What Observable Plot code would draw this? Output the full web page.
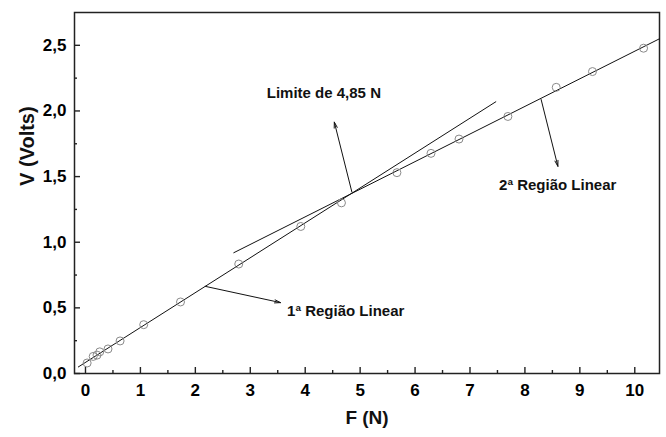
<!DOCTYPE html>
<html><head><meta charset="utf-8">
<script src="https://cdn.jsdelivr.net/npm/d3@7"></script>
<script src="https://cdn.jsdelivr.net/npm/@observablehq/plot@0.6"></script>
<style>body{margin:0;background:#fff}</style>
</head><body><div id="chart"></div>
<script>
// Measured points
const forceN = [0.03, 0.14, 0.21, 0.26, 0.41, 0.63, 1.06, 1.73, 2.79, 3.92, 4.66, 5.67, 6.29, 6.80, 7.69, 8.57, 9.23, 10.16];
const voltsV = [0.08, 0.13, 0.14, 0.165, 0.187, 0.248, 0.372, 0.545, 0.834, 1.12, 1.30, 1.53, 1.677, 1.786, 1.958, 2.18, 2.30, 2.478];

// Fit lines (endpoints)
const fit1F = [-0.13, 7.47];
const fit1V = [0.05, 2.07];
const fit2F = [2.70, 10.45];
const fit2V = [0.92, 2.55];

// Annotations
const noteLabels = ["Limite de 4,85 N", "2ª Região Linear", "1ª Região Linear"];
const noteF = [3.30, 7.53, 3.67];
const noteV = [2.137, 1.433, 0.476];
const arrowF1 = [4.85, 8.295, 2.18];
const arrowV1 = [1.382, 2.087, 0.664];
const arrowF2 = [4.53, 8.60, 3.55];
const arrowV2 = [1.915, 1.578, 0.540];

// Ticks
const xMajor = [0, 1, 2, 3, 4, 5, 6, 7, 8, 9, 10];
const xMinor = [0.5, 1.5, 2.5, 3.5, 4.5, 5.5, 6.5, 7.5, 8.5, 9.5];
const yMajor = [0, 0.5, 1.0, 1.5, 2.0, 2.5];
const yMinor = [0.25, 0.75, 1.25, 1.75, 2.25];

const points = forceN.map((f, i) => ({F: f, V: voltsV[i]}));
const fit1 = fit1F.map((f, i) => ({F: f, V: fit1V[i]}));
const fit2 = fit2F.map((f, i) => ({F: f, V: fit2V[i]}));
const notes = noteLabels.map((t, i) => ({label: t, F: noteF[i], V: noteV[i]}));
const arrows = arrowF1.map((f, i) => ({x1: f, y1: arrowV1[i], x2: arrowF2[i], y2: arrowV2[i]}));

const W = 666, H = 437, mL = 74, mR = 7, mT = 12, mB = 64;
const fw = W - mL - mR, fh = H - mT - mB;
const font = "'Liberation Sans', Arial, Helvetica, sans-serif";

const chart = Plot.plot({
  width: W, height: H,
  marginLeft: mL, marginRight: mR, marginTop: mT, marginBottom: mB,
  x: {domain: [-0.2, 10.45]},
  y: {domain: [0, 2.75]},
  style: {fontFamily: font, fontWeight: "bold", color: "#000", background: "#fff"},
  marks: [
    Plot.axisX({ticks: xMajor, tickSize: 0, tickPadding: 10, fontSize: 17, fontWeight: "bold", tickFormat: d => String(d), label: null}),
    Plot.axisY({ticks: yMajor, tickSize: 0, tickPadding: 8, fontSize: 17, fontWeight: "bold", tickFormat: d => d.toFixed(1).replace(".", ","), label: null}),
    Plot.tickX(xMajor, {x: d => d, insetTop: fh - 6, stroke: "#222", strokeWidth: 1.4}),
    Plot.tickX(xMinor, {x: d => d, insetTop: fh - 3, stroke: "#222", strokeWidth: 1.4}),
    Plot.tickY(yMajor, {y: d => d, insetRight: fw - 6, stroke: "#222", strokeWidth: 1.4}),
    Plot.tickY(yMinor, {y: d => d, insetRight: fw - 3, stroke: "#222", strokeWidth: 1.4}),
    Plot.frame({stroke: "#222", strokeWidth: 1.5}),
    Plot.line(fit1, {x: "F", y: "V", stroke: "#111", strokeWidth: 1}),
    Plot.line(fit2, {x: "F", y: "V", stroke: "#111", strokeWidth: 1}),
    Plot.dot(points, {x: "F", y: "V", r: 4, stroke: "#8a8a8a", strokeWidth: 1, fill: "none"}),
    Plot.arrow(arrows, {x1: "x1", y1: "y1", x2: "x2", y2: "y2", stroke: "#111", strokeWidth: 1, headLength: 9, headAngle: 30}),
    Plot.text(notes, {x: "F", y: "V", text: "label", textAnchor: "start", fontSize: 15, fontWeight: "bold", fill: "#111"}),
    Plot.text(["F (N)"], {frameAnchor: "bottom", dy: 50, fontSize: 19, fontWeight: "bold", fill: "#111"}),
    Plot.text(["V (Volts)"], {frameAnchor: "left", dx: -47, dy: -7, rotate: -90, fontSize: 20, fontWeight: "bold", fill: "#111"})
  ]
});
document.getElementById("chart").appendChild(chart);
</script>
</body></html>
